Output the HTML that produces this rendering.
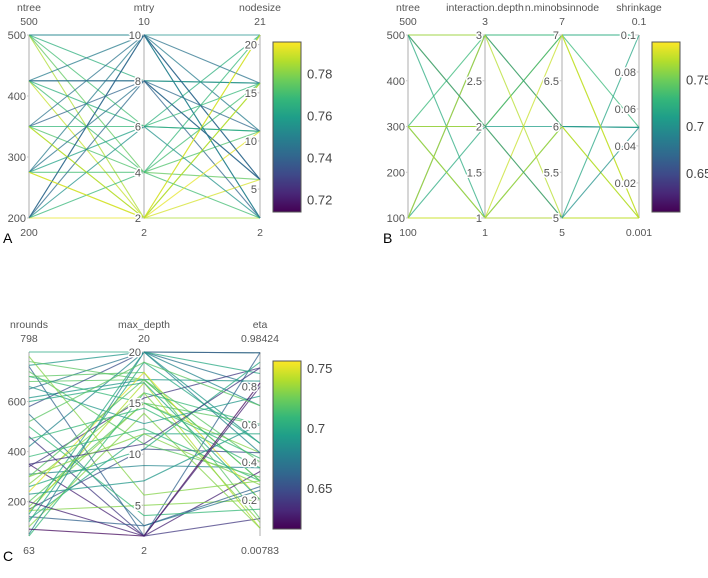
<!DOCTYPE html>
<html><head><meta charset="utf-8"><style>
body{margin:0;background:#fff;width:708px;height:573px;overflow:hidden;font-family:"Liberation Sans",sans-serif}
svg text{font-family:"Liberation Sans",sans-serif}
.tk{font-size:11px;fill:#555;paint-order:stroke;stroke:#fff;stroke-width:3px;stroke-linejoin:round}
.lb{font-size:10.5px;fill:#555}
.cb{font-size:13px;fill:#444}
.pl{font-size:14px;fill:#000}
</style></head><body>
<svg id="s" width="708" height="573"></svg>
<script>
// Panel A data: ntree, mtry, nodesize, accuracy
const aNtree=[500,500,500,500,500,425,425,425,425,425,350,350,350,350,350,275,275,275,275,275,200,200,200,200,200,500,425,200,275,350];
const aMtry=[10,8,6,2,4,10,8,6,2,4,10,8,6,2,4,10,8,6,4,2,10,8,6,4,2,10,8,10,2,2];
const aNode=[21,16,11,2,6,11,16,21,16,2,6,2,16,21,11,2,6,11,16,6,16,11,2,21,11,2,6,6,21,16];
const aAcc=[.755,.765,.77,.785,.775,.748,.752,.765,.788,.77,.745,.74,.768,.79,.772,.748,.745,.76,.77,.79,.745,.742,.755,.768,.792,.75,.74,.74,.79,.785];
// Panel B data
const bNtree=[500,500,500,500,300,300,300,300,100,100,100,100,100,300,500];
const bDepth=[3,2,1,3,3,2,1,2,1,3,2,3,1,1,2];
const bMinobs=[7,5,6,6,7,6,5,7,5,6,7,5,7,6,5];
const bShrink=[0.1,0.001,0.05,0.001,0.05,0.05,0.1,0.001,0.001,0.05,0.1,0.001,0.001,0.001,0.05];
const bAcc=[.72,.775,.72,.77,.73,.71,.715,.77,.78,.70,.72,.77,.775,.77,.70];
// Panel C data
const cNrounds=[798,745,740,680,650,615,580,760,700,460,350,340,310,260,240,200,180,170,165,160,150,140,130,100,70,63,420,380,550,660,720,500,300,270,120,450,600,780,230,90,200,350,700,520,300];
const cDepth=[20,20,2,17.3,20,17.3,20,17.3,18,2,2,15.5,8.9,10.5,18,15,15,10.5,5,17,20,3,12,14,20,16,20,12.5,3,13,11,4,17.3,16,19,14.5,17,6,7.4,2,2,11,15,19,12];
const cEta=[0.98,0.5,0.98,0.3,0.8,0.83,0.98,0.3,0.1,0.1,0.35,0.9,0.37,0.93,0.2,0.6,0.45,0.45,0.2,0.05,0.87,0.27,0.55,0.05,0.7,0.6,0.45,0.3,0.25,0.75,0.32,0.15,0.4,0.08,0.5,0.37,0.2,0.3,0.6,0.82,0.8,0.9,0.42,0.7,0.28];
const cAcc=[.70,.69,.66,.72,.67,.69,.65,.72,.72,.64,.63,.64,.68,.70,.75,.72,.73,.65,.73,.74,.70,.66,.70,.73,.68,.71,.68,.71,.67,.69,.72,.71,.72,.73,.70,.71,.70,.73,.69,.62,.63,.64,.71,.72,.73];

const NS='http://www.w3.org/2000/svg';
const svg=document.getElementById('s');
const V=[[68,1,84],[72,40,120],[62,74,137],[49,104,142],[38,130,142],[31,158,137],[53,183,121],[109,205,89],[180,222,44],[253,231,37]];
function vir(t){t=Math.max(0,Math.min(1,t));const p=t*(V.length-1),i=Math.min(V.length-2,Math.floor(p)),f=p-i;
 const c=V[i].map((v,k)=>Math.round(v+(V[i+1][k]-v)*f));return `rgb(${c[0]},${c[1]},${c[2]})`;}
function mk(tag,at,parent){const e=document.createElementNS(NS,tag);for(const k in at)e.setAttribute(k,at[k]);(parent||svg).appendChild(e);return e;}
function txt(x,y,s,cls,anchor,parent){const t=mk('text',{x:x,y:y,class:cls,'text-anchor':anchor||'middle'},parent);t.textContent=s;return t;}

function panel(name,axes,acc,top,bot,cbar,letter){
 const g=mk('g',{});
 
 
 const n=acc.length;
 const sc=axes.map(a=>v=>bot-(v-a.min)/(a.max-a.min)*(bot-top));
 const cs=v=>(v-cbar.min)/(cbar.max-cbar.min);
 axes.forEach(a=>{const l=mk('line',{x1:a.x,x2:a.x,y1:top,y2:bot,stroke:'#c8c8c8','stroke-width':1.5},g);
  
  });
 for(let i=0;i<n;i++){
  const pts=axes.map((a,k)=>a.x+','+sc[k](a.data[i]).toFixed(1)).join(' ');
  const p=mk('polyline',{points:pts,fill:'none',stroke:vir(cs(acc[i])),'stroke-width':1.1,'stroke-opacity':0.75},g);
  
  
 }
 axes.forEach((a,k)=>{
  a.ticks.forEach(tv=>{const y=sc[k](tv);
   mk('line',{x1:a.x-4,x2:a.x,y1:y,y2:y,stroke:'#c8c8c8'},g);
   const t=txt(a.x-3,y+4,String(tv),'tk','end',g);
   
   });
  const ti=txt(a.x,top-24,a.name,'lb','middle',g);
  
  
  txt(a.x,top-10,a.maxL,'lb','middle',g);
  txt(a.x,bot+18,a.minL,'lb','middle',g);
 });
 const gid='gr'+name;
 const d=mk('defs',{},g);const lg=mk('linearGradient',{id:gid,x1:0,y1:1,x2:0,y2:0},d);
 for(let i=0;i<V.length;i++)mk('stop',{offset:i/(V.length-1),'stop-color':vir(i/(V.length-1))},lg);
 const r=mk('rect',{x:cbar.x,y:cbar.y0,width:28,height:cbar.y1-cbar.y0,fill:`url(#${gid})`,stroke:'#555','stroke-width':1},g);
 
 
 cbar.ticks.forEach(tv=>{const y=cbar.y1-cs(tv)*(cbar.y1-cbar.y0);
  txt(cbar.x+34,y+5,String(tv),'cb','start',g);});
 const L=txt(letter.x,letter.y,letter.t,'pl','start',g);
 
 
}

panel('panel-a',[
 {name:'ntree',x:29,min:200,max:500,data:aNtree,ticks:[200,300,400,500],maxL:'500',minL:'200'},
 {name:'mtry',x:144,min:2,max:10,data:aMtry,ticks:[2,4,6,8,10],maxL:'10',minL:'2'},
 {name:'nodesize',x:260,min:2,max:21,data:aNode,ticks:[5,10,15,20],maxL:'21',minL:'2'}
],aAcc,35,218,{x:273,y0:42,y1:212,min:0.714,max:0.795,ticks:[0.72,0.74,0.76,0.78]},{x:3,y:243,t:'A'});

panel('panel-b',[
 {name:'ntree',x:408,min:100,max:500,data:bNtree,ticks:[100,200,300,400,500],maxL:'500',minL:'100'},
 {name:'interaction.depth',x:485,min:1,max:3,data:bDepth,ticks:[1,1.5,2,2.5,3],maxL:'3',minL:'1'},
 {name:'n.minobsinnode',x:562,min:5,max:7,data:bMinobs,ticks:[5,5.5,6,6.5,7],maxL:'7',minL:'5'},
 {name:'shrinkage',x:639,min:0.001,max:0.1,data:bShrink,ticks:[0.02,0.04,0.06,0.08,0.1],maxL:'0.1',minL:'0.001'}
],bAcc,35,218,{x:652,y0:42,y1:212,min:0.608,max:0.790,ticks:[0.65,0.7,0.75]},{x:383,y:243,t:'B'});

panel('panel-c',[
 {name:'nrounds',x:29,min:63,max:798,data:cNrounds,ticks:[200,400,600],maxL:'798',minL:'63'},
 {name:'max_depth',x:144,min:2,max:20,data:cDepth,ticks:[5,10,15,20],maxL:'20',minL:'2'},
 {name:'eta',x:260,min:0.00783,max:0.98424,data:cEta,ticks:[0.2,0.4,0.6,0.8],maxL:'0.98424',minL:'0.00783'}
],cAcc,352,536,{x:273,y0:361,y1:529,min:0.616,max:0.756,ticks:[0.65,0.7,0.75]},{x:3,y:561,t:'C'});
</script>
</body></html>
